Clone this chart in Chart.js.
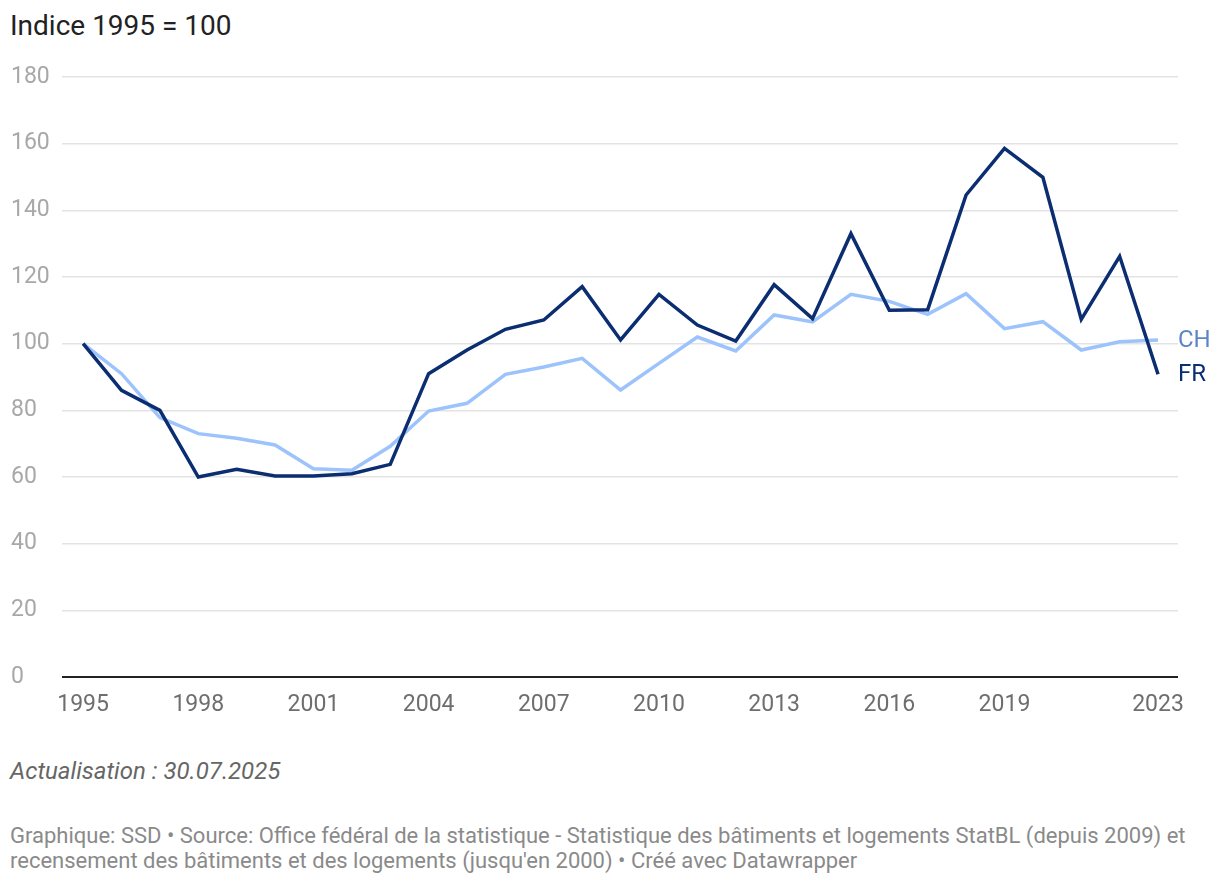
<!DOCTYPE html>
<html>
<head>
<meta charset="utf-8">
<script src="https://cdn.jsdelivr.net/npm/chart.js@4/dist/chart.umd.min.js"></script>
<style>
  body { margin: 0; background: #fff; font-family: Roboto, sans-serif; }
  #title { position: absolute; left: 10px; top: 9px; font-size: 28px; color: #222; white-space: nowrap; }
  #wrap { position: absolute; left: 0; top: 50px; width: 1220px; height: 680px; }
  #update { position: absolute; left: 10px; top: 757px; font-size: 24px; font-style: italic; color: #666; white-space: nowrap; }
  #source { position: absolute; left: 10px; top: 823px; font-size: 22px; line-height: 25px; color: #8a8a8a; white-space: nowrap; }
</style>
</head>
<body>
<div id="title">Indice 1995 = 100</div>
<div id="wrap"><canvas id="chart"></canvas></div>
<div id="update">Actualisation : 30.07.2025</div>
<div id="source">Graphique: SSD • Source: Office fédéral de la statistique - Statistique des bâtiments et logements StatBL (depuis 2009) et<br>recensement des bâtiments et des logements (jusqu'en 2000) • Créé avec Datawrapper</div>
<script>
// years and index values (1995 = 100)
const years = [1995, 1996, 1997, 1998, 1999, 2000, 2001, 2002, 2003, 2004, 2005, 2006, 2007, 2008, 2009,
  2010, 2011, 2012, 2013, 2014, 2015, 2016, 2017, 2018, 2019, 2020, 2021, 2022, 2023];
const fr = [100, 86, 80, 60, 62.3, 60.3, 60.3, 61, 63.8, 91, 98.1, 104.3, 107.1, 117.1, 101.1,
  114.8, 105.6, 100.8, 117.7, 107.5, 133, 110, 110.2, 144.6, 158.6, 149.9, 107.3, 126.2, 90.8];
const ch = [100, 91, 77.8, 73, 71.6, 69.6, 62.5, 62, 69.2, 79.8, 82.1, 90.8, 93, 95.6, 86.1,
  94.1, 102, 97.8, 108.6, 106.5, 114.8, 112.7, 108.8, 115, 104.5, 106.6, 98.1, 100.6, 101.1];
const xTicks = [1995, 1998, 2001, 2004, 2007, 2010, 2013, 2016, 2019, 2023];
const yTicks = [0, 20, 40, 60, 80, 100, 120, 140, 160, 180];

const FR_COLOR = '#0b2d71';
const CH_COLOR = '#9cc3fb';

function toPoints(values) {
  return years.map((y, i) => ({ x: y, y: values[i] }));
}

// write the series name at the end of each line
const endLabels = {
  id: 'endLabels',
  afterDatasetsDraw(chart) {
    const ctx = chart.ctx;
    ctx.save();
    ctx.font = '24px Roboto';
    ctx.textBaseline = 'middle';
    ctx.textAlign = 'left';
    chart.data.datasets.forEach((ds, i) => {
      const meta = chart.getDatasetMeta(i);
      const last = meta.data[meta.data.length - 1];
      ctx.fillStyle = ds.labelColor;
      ctx.fillText(ds.label, chart.chartArea.right, last.y + 1);
    });
    ctx.restore();
  }
};

new Chart(document.getElementById('chart'), {
  type: 'line',
  data: {
    datasets: [
      { label: 'FR', labelColor: FR_COLOR, data: toPoints(fr), borderColor: FR_COLOR, borderWidth: 3.5, pointRadius: 0, tension: 0 },
      { label: 'CH', labelColor: '#5b87c8', data: toPoints(ch), borderColor: CH_COLOR, borderWidth: 3.5, pointRadius: 0, tension: 0 }
    ]
  },
  options: {
    responsive: true,
    maintainAspectRatio: false,
    animation: false,
    layout: { padding: { left: 11, right: 42, top: 27, bottom: 0 } },
    plugins: { legend: { display: false }, tooltip: { enabled: false } },
    scales: {
      x: {
        type: 'linear',
        min: 1994.45,
        max: 2023.52,
        afterBuildTicks: s => { s.ticks = xTicks.map(v => ({ value: v })); },
        afterFit: s => { s.height = 53; },
        border: { display: false },
        grid: { display: false, drawTicks: false },
        ticks: {
          padding: 14,
          maxRotation: 0,
          autoSkip: false,
          color: '#6e6e6e',
          font: { family: 'Roboto', size: 23 },
          callback: v => String(v)
        }
      },
      y: {
        min: 0,
        max: 180,
        afterBuildTicks: s => { s.ticks = yTicks.map(v => ({ value: v })); },
        afterFit: s => { s.width = 51; },
        border: { display: false },
        grid: {
          drawTicks: false,
          color: c => c.tick.value === 0 ? '#222' : '#e3e3e3',
          lineWidth: c => c.tick.value === 0 ? 2 : 1.5
        },
        ticks: {
          crossAlign: 'far',
          color: '#a8a8a8',
          font: { family: 'Roboto', size: 23 }
        }
      }
    }
  },
  plugins: [endLabels]
});
</script>
</body>
</html>
